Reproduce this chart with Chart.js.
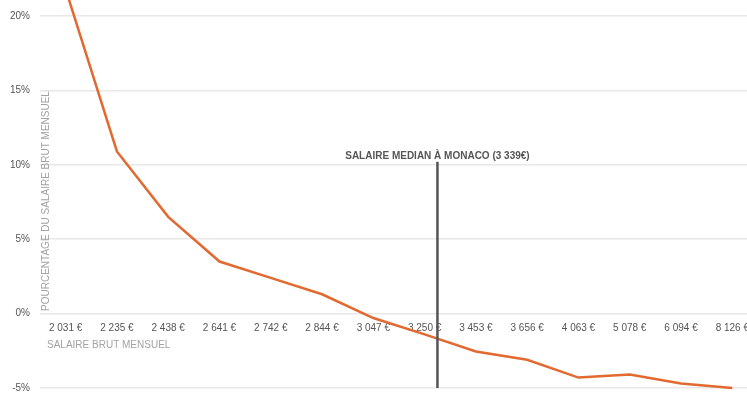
<!DOCTYPE html>
<html lang="fr">
<head>
<meta charset="utf-8">
<script src="https://cdn.jsdelivr.net/npm/chart.js@4/dist/chart.umd.min.js"></script>
<style>
  html, body { margin: 0; padding: 0; background: #fff; overflow: hidden; }
  #wrap { position: absolute; left: 0; top: 0; width: 758px; height: 404px; }
</style>
</head>
<body>
<div id="wrap"><canvas id="c"></canvas></div>
<script>
// Salaire brut mensuel (catégories de l'axe horizontal)
const salaires = ['2 031 €', '2 235 €', '2 438 €', '2 641 €', '2 742 €', '2 844 €', '3 047 €',
                  '3 250 €', '3 453 €', '3 656 €', '4 063 €', '5 078 €', '6 094 €', '8 126 €'];
// Écart en pourcentage du salaire brut mensuel
const pourcentages = [21.8, 10.9, 6.5, 3.5, 2.4, 1.3, -0.3, -1.4, -2.55, -3.1, -4.3, -4.1, -4.7, -5.0];
// Graduations de l'axe vertical
const yMin = -5, yMax = 20, yStep = 5;
// Salaire médian : position sur l'axe des catégories et hauteur du repère
const medianeLibelle = 'SALAIRE MEDIAN À MONACO (3 339€)';
const medianePosition = 7.25;
const medianeHaut = 10.2;

const titreY = 'POURCENTAGE DU SALAIRE BRUT MENSUEL';
const titreX = 'SALAIRE BRUT MENSUEL';
const FONT = '"Liberation Sans", Arial, Helvetica, sans-serif';

const annotations = {
  id: 'annotations',
  afterDatasetsDraw(chart) {
    const { ctx, chartArea, scales: { x, y } } = chart;
    ctx.save();
    // Titre vertical à l'intérieur de la zone de tracé
    ctx.fillStyle = '#a3a3a3';
    ctx.font = '10px ' + FONT;
    ctx.textAlign = 'center';
    ctx.textBaseline = 'middle';
    ctx.save();
    ctx.translate(chartArea.left + 6, (y.getPixelForValue(15) + y.getPixelForValue(0)) / 2 - 1);
    ctx.rotate(-Math.PI / 2);
    ctx.fillText(titreY, 0, 0);
    ctx.restore();
    // Titre horizontal sous les graduations
    ctx.textAlign = 'left';
    ctx.fillText(titreX, chartArea.left + 7, y.getPixelForValue(0) + 32);

    // Repère du salaire médian
    const x0 = x.getPixelForValue(Math.floor(medianePosition));
    const x1 = x.getPixelForValue(Math.floor(medianePosition) + 1);
    const mx = x0 + (medianePosition - Math.floor(medianePosition)) * (x1 - x0);
    const top = y.getPixelForValue(medianeHaut);
    ctx.strokeStyle = '#555555';
    ctx.lineWidth = 2.5;
    ctx.beginPath();
    ctx.moveTo(mx, top);
    ctx.lineTo(mx, chartArea.bottom);
    ctx.stroke();
    ctx.fillStyle = '#555555';
    ctx.font = 'bold 10px ' + FONT;
    ctx.textAlign = 'center';
    ctx.fillText(medianeLibelle, mx, top - 6);
    ctx.restore();
  }
};

new Chart(document.getElementById('c'), {
  type: 'line',
  data: {
    labels: salaires,
    datasets: [{
      data: pourcentages,
      borderColor: '#e2692f',
      borderWidth: 2.5,
      pointRadius: 0,
      tension: 0,
      fill: false,
      clip: false
    }]
  },
  options: {
    responsive: true,
    maintainAspectRatio: false,
    animation: false,
    layout: { padding: { top: 15, bottom: 7, left: 0, right: 0 } },
    plugins: { legend: { display: false }, tooltip: { enabled: false } },
    scales: {
      x: {
        position: { y: 0 },
        offset: true,
        grid: { display: false, drawTicks: false },
        border: { display: false },
        ticks: {
          color: '#555555',
          font: { size: 10, family: FONT },
          padding: 9,
          maxRotation: 0,
          autoSkip: false
        }
      },
      y: {
        min: yMin,
        max: yMax,
        afterFit(scale) { scale.width = 40; },
        grid: { color: '#e8e8e8', lineWidth: 1.5, drawTicks: false },
        border: { display: false },
        ticks: {
          stepSize: yStep,
          color: '#555555',
          font: { size: 10, family: FONT },
          padding: 10,
          callback: v => v + '%'
        }
      }
    }
  },
  plugins: [annotations]
});
</script>
</body>
</html>
